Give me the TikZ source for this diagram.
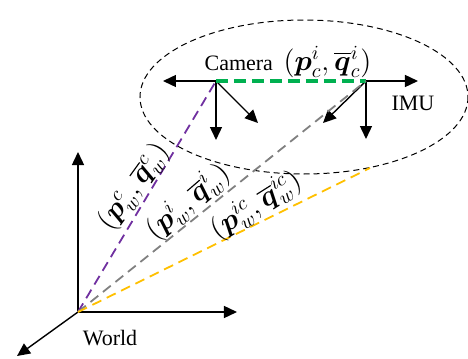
\documentclass[tikz,border=0pt]{standalone}
\usepackage{amsmath}
\usepackage{bm}
\usepackage[no-math]{fontspec}
\setmainfont{Liberation Serif}
\usetikzlibrary{arrows.meta,calc}
\definecolor{camgreen}{RGB}{0,176,80}
\definecolor{linkpurple}{RGB}{112,48,160}
\definecolor{linkgray}{RGB}{128,128,128}
\definecolor{linkyellow}{RGB}{255,192,0}

\begin{document}
\begin{tikzpicture}[x=0.5pt,y=-0.5pt,
  axis/.style={-{Triangle[length=6.5pt,width=6pt]},line width=0.7pt},
  link/.style={line width=0.9pt,dash pattern=on 5pt off 3pt},
  pose/.style={font=\fontsize{14}{16}\selectfont,inner sep=0.5pt},
  lbl/.style={font=\fontsize{11}{13}\selectfont,inner sep=1pt}]
  \useasboundingbox (0,0) rectangle (468,359);
  % frame origins
  \coordinate (world) at (78,312);
  \coordinate (cam)   at (216,81);
  \coordinate (imu)   at (366,81);
  % rig boundary
  \draw[line width=0.5pt,dash pattern=on 3pt off 2pt] (304,97) ellipse [x radius=164,y radius=77];
  \coordinate (rim) at (370,168);
  % axis tips
  \coordinate (wy) at (78,152);  \coordinate (wx) at (237,312);  \coordinate (wz) at (17,356);
  \coordinate (cx) at (163,81);  \coordinate (cy) at (216,140);  \coordinate (cz) at (258,123);
  \coordinate (ix) at (418,81);  \coordinate (iy) at (366,139);  \coordinate (iz) at (323,123);
  \draw[axis] (world) -- (wy); \draw[axis] (world) -- (wx); \draw[axis] (world) -- (wz);
  \draw[axis] (cam) -- (cx); \draw[axis] (cam) -- (cy); \draw[axis] (cam) -- (cz);
  \draw[axis] (imu) -- (ix); \draw[axis] (imu) -- (iy); \draw[axis] (imu) -- (iz);
  % extrinsics camera -> imu
  \draw[camgreen,line width=1.6pt,dash pattern=on 6pt off 3pt] (cam) --
    node[above,pos=0.48,inner sep=1pt,text=black] {{\fontsize{11}{13}\selectfont Camera}\;
      {\fontsize{14}{16}\selectfont$(\bm p_c^i,\overline{\bm q}{}_c^i)$}} (imu);
  % poses in world
  \draw[link,linkpurple] (world) --
    node[pose,sloped,above,pos=0.5,rotate=-5,text=black] {$(\bm p_w^c,\overline{\bm q}{}_w^c)$} (cam);
  \draw[link,linkgray] (world) --
    node[pose,sloped,above,pos=0.42,rotate=2,text=black] {$(\bm p_w^i,\overline{\bm q}{}_w^i)$} (imu);
  \draw[link,linkyellow] (world) --
    node[pose,sloped,above,pos=0.64,rotate=6,text=black] {$(\bm p_w^{ic},\overline{\bm q}{}_w^{ic})$} (rim);
  \node[lbl] (imulbl) at (413,103) {IMU};
  \node[lbl] (worldlbl) at (110,338) {World};
\end{tikzpicture}
\end{document}
